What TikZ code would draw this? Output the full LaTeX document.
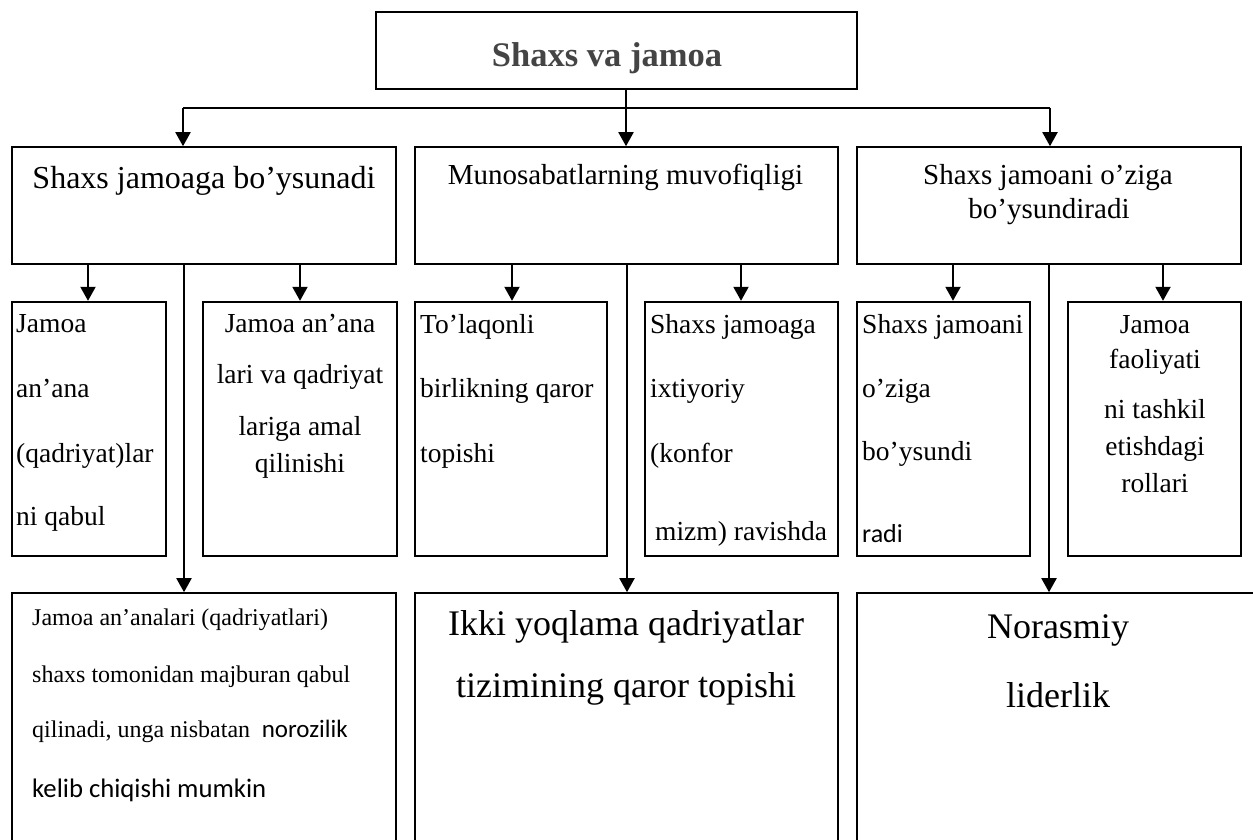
\documentclass[tikz,border=0pt]{standalone}
\usepackage{fontspec}
\setmainfont{Liberation Serif}
\newfontfamily\calib{Carlito}
\usetikzlibrary{arrows.meta}
\definecolor{topgray}{HTML}{444444}
\newcommand{\fsz}[1]{\fontsize{#1}{#1}\selectfont}
\begin{document}
\begin{tikzpicture}[x=1pt,y=-1pt,
  bigbox/.style={draw,line width=1.6pt,rectangle,inner sep=0pt},
  subbox/.style={draw,line width=2.4pt,rectangle,inner sep=0pt},
  conn/.style={line width=2pt},
  arr/.style={line width=2pt,-{Triangle[width=15pt,length=14pt]}},
  tl/.style={inner sep=0pt,anchor=base west},
  tc/.style={inner sep=0pt,anchor=base}]
\useasboundingbox (0,0) rectangle (1253,840);
\clip (0,0) rectangle (1253,840);
\fill[white] (0,0) rectangle (1253,840);

% boxes
\node[bigbox,minimum width=481pt,minimum height=77pt] (top) at (616.5,50.5) {};
\node[bigbox,minimum width=384pt,minimum height=117pt] (b1) at (204,205.5) {};
\node[bigbox,minimum width=423pt,minimum height=117pt] (b2) at (626.5,205.5) {};
\node[bigbox,minimum width=384pt,minimum height=117pt] (b3) at (1049,205.5) {};
\node[subbox,minimum width=154pt,minimum height=254pt] (l1) at (89,429) {};
\node[subbox,minimum width=194pt,minimum height=254pt] (l2) at (300,429) {};
\node[subbox,minimum width=192pt,minimum height=254pt] (m1) at (511,429) {};
\node[subbox,minimum width=193pt,minimum height=254pt] (m2) at (741.5,429) {};
\node[subbox,minimum width=173pt,minimum height=254pt] (r1) at (943.5,429) {};
\node[subbox,minimum width=173pt,minimum height=254pt] (r2) at (1154.5,429) {};
\node[bigbox,minimum width=384pt,minimum height=267pt] (bl) at (204,726.5) {};
\node[bigbox,minimum width=423pt,minimum height=267pt] (bm) at (626.5,726.5) {};
\node[bigbox,minimum width=443pt,minimum height=267pt] (br) at (1078.5,726.5) {};

% connectors
\coordinate (cx) at (626,0);
\coordinate (h1) at (183,108);
\coordinate (h2) at (1050,108);
\draw[conn] (h1) -- (h2);
\draw[arr] (top.south -| cx) -- (b2.north -| cx);
\draw[arr] (h1) -- (b1.north -| h1);
\draw[arr] (h2) -- (b3.north -| h2);

\coordinate (x1) at (88,0);
\coordinate (x2) at (300,0);
\coordinate (x3) at (184,0);
\coordinate (x4) at (512,0);
\coordinate (x5) at (741,0);
\coordinate (x6) at (627,0);
\coordinate (x7) at (953,0);
\coordinate (x8) at (1163,0);
\coordinate (x9) at (1049,0);
\draw[arr] (b1.south -| x1) -- (l1.north -| x1);
\draw[arr] (b1.south -| x2) -- (l2.north -| x2);
\draw[arr] (b1.south -| x3) -- (bl.north -| x3);
\draw[arr] (b2.south -| x4) -- (m1.north -| x4);
\draw[arr] (b2.south -| x5) -- (m2.north -| x5);
\draw[arr] (b2.south -| x6) -- (bm.north -| x6);
\draw[arr] (b3.south -| x7) -- (r1.north -| x7);
\draw[arr] (b3.south -| x8) -- (r2.north -| x8);
\draw[arr] (b3.south -| x9) -- (br.north -| x9);

% texts
\node[tc,text=topgray,font=\fsz{34.5}\bfseries] (ttop) at (607,67) {Shaxs va jamoa};
\node[tc,font=\fsz{32}] (tb1) at (204,189) {Shaxs jamoaga bo’ysunadi};
\node[tc,font=\fsz{29}] (tb2) at (625.5,185) {Munosabatlarning muvofiqligi};
\node[tc,font=\fsz{29}] (tb3a) at (1048,185) {Shaxs jamoani o’ziga};
\node[tc,font=\fsz{29}] (tb3b) at (1049,218) {bo’ysundiradi};

\node[tl,font=\fsz{27.5}] (tl1a) at (16,332) {Jamoa};
\node[tl,font=\fsz{27.5}] (tl1b) at (16,397) {an’ana};
\node[tl,font=\fsz{27.5}] (tl1c) at (16,462) {(qadriyat)lar};
\node[tl,font=\fsz{27.5}] (tl1d) at (16,525) {ni qabul};

\node[tc,font=\fsz{27.5}] (tl2a) at (300,332) {Jamoa an’ana};
\node[tc,font=\fsz{27.5}] (tl2b) at (300,383) {lari va qadriyat};
\node[tc,font=\fsz{27.5}] (tl2c) at (300,435) {lariga amal};
\node[tc,font=\fsz{27.5}] (tl2d) at (300,472) {qilinishi};

\node[tl,font=\fsz{27.5}] (tm1a) at (420,333) {To’laqonli};
\node[tl,font=\fsz{27.5}] (tm1b) at (420,397) {birlikning qaror};
\node[tl,font=\fsz{27.5}] (tm1c) at (420,462) {topishi};

\node[tl,font=\fsz{27.5}] (tm2a) at (650,333) {Shaxs jamoaga};
\node[tl,font=\fsz{27.5}] (tm2b) at (650,397) {ixtiyoriy};
\node[tl,font=\fsz{27.5}] (tm2c) at (650,462) {(konfor};
\node[tl,font=\fsz{27.5}] (tm2d) at (655,540) {mizm) ravishda};

\node[tl,font=\fsz{27.5}] (tr1a) at (862,333) {Shaxs jamoani};
\node[tl,font=\fsz{27.5}] (tr1b) at (862,397) {o’ziga};
\node[tl,font=\fsz{27.5}] (tr1c) at (862,460) {bo’ysundi};
\node[tl,font=\calib\fsz{26}] (tr1d) at (862,542) {radi};

\node[tc,font=\fsz{27.5}] (tr2a) at (1155,333) {Jamoa};
\node[tc,font=\fsz{27.5}] (tr2b) at (1155,368) {faoliyati};
\node[tc,font=\fsz{27.5}] (tr2c) at (1155,418) {ni tashkil};
\node[tc,font=\fsz{27.5}] (tr2d) at (1155,455) {etishdagi};
\node[tc,font=\fsz{27.5}] (tr2e) at (1155,492) {rollari};

\node[tl,font=\fsz{24}] (tbla) at (32,625) {Jamoa an’analari (qadriyatlari)};
\node[tl,font=\fsz{24}] (tblb) at (32,682) {shaxs tomonidan majburan qabul};
\node[tl,font=\fsz{24}] (tblc) at (32,737) {qilinadi, unga nisbatan {\calib\fsz{25} norozilik}};
\node[tl,font=\calib\fsz{26.7}] (tbld) at (32,797) {kelib chiqishi mumkin};

\node[tc,font=\fsz{36}] (tbma) at (626,635) {Ikki yoqlama qadriyatlar};
\node[tc,font=\fsz{36}] (tbmb) at (626,697) {tizimining qaror topishi};

\node[tc,font=\fsz{36}] (tbra) at (1058,638) {Norasmiy};
\node[tc,font=\fsz{36}] (tbrb) at (1058,707) {liderlik};
\end{tikzpicture}
\end{document}
